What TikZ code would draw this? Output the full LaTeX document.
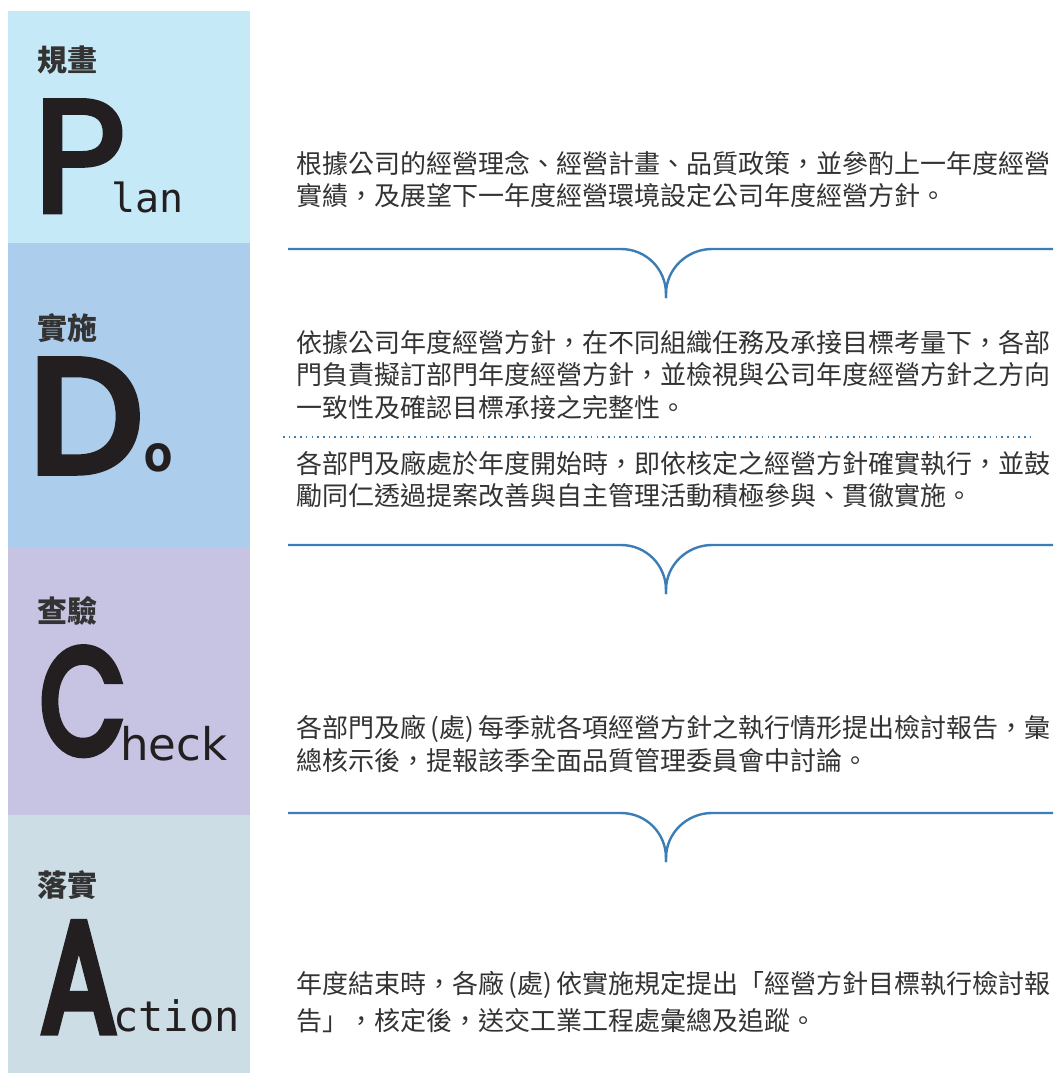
\documentclass[tikz,border=0pt]{standalone}
\usepackage{fontspec}
\newfontfamily\cjk{Noto Sans CJK TC}
\newfontfamily\bigfont{Poppins}[FakeBold=3]
\newfontfamily\bigfontb{Poppins}[FakeBold=6]
\newfontfamily\monofont{DejaVu Sans Mono}
\newfontfamily\dvsans{DejaVu Sans}
\definecolor{planbg}{HTML}{C6E9F8}
\definecolor{dobg}{HTML}{ACCDEB}
\definecolor{checkbg}{HTML}{C7C3E2}
\definecolor{actbg}{HTML}{CCDDE6}
\definecolor{flowblue}{HTML}{3D7DB5}
\definecolor{txtgray}{HTML}{333333}
\definecolor{letterc}{HTML}{231F20}
\newcommand{\pgap}{\hspace{4.5pt}}
\tikzset{
  body/.style={anchor=base west, inner sep=0pt, text=txtgray, font=\cjk\fontsize{26}{26}\selectfont},
  head/.style={anchor=base west, inner sep=0pt, text=txtgray, font=\cjk\bfseries\fontsize{30}{30}\selectfont},
  bigletter/.style={anchor=base west, inner sep=0pt, text=letterc},
  small/.style={anchor=base west, inner sep=0pt, text=letterc},
  flow/.style={draw=flowblue, line width=2.4pt},
  dotline/.style={draw=flowblue, line width=1.6pt, dash pattern=on 1.6pt off 4.1pt}
}
\begin{document}
\begin{tikzpicture}[x=1pt,y=-1pt]
\useasboundingbox (0,0) rectangle (1053,1073);
\fill[white] (0,0) rectangle (1053,1073);
% bands
\fill[planbg] (8,11) rectangle (250,243);
\fill[dobg] (8,243) rectangle (250,547);
\fill[checkbg] (8,547) rectangle (250,815);
\fill[actbg] (8,815) rectangle (250,1073);
% headings
\node[head] (h1) at (37,71) {規畫};
\node[head] (h2) at (37,339) {實施};
\node[head] (h3) at (37,622) {查驗};
\node[head] (h4) at (37,896) {落實};
% big letters
\node[bigletter, font=\bigfont\fontsize{160}{160}\selectfont] (P) at (33,212) {P};
\node[small, font=\monofont\fontsize{40}{40}\selectfont] (lan) at (111,212) {lan};
\node[bigletter, font=\bigfontb\fontsize{158}{158}\selectfont] (D) at (30,471) {D};
\node[small, font=\monofont\bfseries\fontsize{50}{50}\selectfont] (o) at (143,471) {o};
\node[bigletter, font=\bigfontb\fontsize{148}{148}\selectfont] (C) at (40,753) {\scalebox{0.74}[1]{C}};
\node[small, font=\dvsans\fontsize{45}{45}\selectfont] (heck) at (120,760) {heck};
\node[bigletter, font=\bigfontb\fontsize{155}{155}\selectfont] (A) at (41,1031) {\scalebox{0.72}[1]{A}};
\node[small, font=\monofont\fontsize{42}{42}\selectfont] (ction) at (113,1031) {ction};
% texts
\node[body] (p1a) at (296,173) {根據公司的經營理念、經營計畫、品質政策，並參酌上一年度經營};
\node[body] (p1b) at (296,205) {實績，及展望下一年度經營環境設定公司年度經營方針。};
\node[body] (p2a) at (296,352) {依據公司年度經營方針，在不同組織任務及承接目標考量下，各部};
\node[body] (p2b) at (296,384) {門負責擬訂部門年度經營方針，並檢視與公司年度經營方針之方向};
\node[body] (p2c) at (296,417) {一致性及確認目標承接之完整性。};
\node[body] (p3a) at (296,473) {各部門及廠處於年度開始時，即依核定之經營方針確實執行，並鼓};
\node[body] (p3b) at (296,505) {勵同仁透過提案改善與自主管理活動積極參與、貫徹實施。};
\node[body] (p4a) at (296,737) {各部門及廠\pgap(處)\pgap 每季就各項經營方針之執行情形提出檢討報告，彙};
\node[body] (p4b) at (296,770) {總核示後，提報該季全面品質管理委員會中討論。};
\node[body] (p5a) at (296,993) {年度結束時，各廠\pgap(處)\pgap 依實施規定提出「經營方針目標執行檢討報};
\node[body] (p5b) at (296,1030) {告」，核定後，送交工業工程處彙總及追蹤。};
% separators
\coordinate (s1l) at (288,249); \coordinate (s1t) at (666,298); \coordinate (s1r) at (1053,249);
\coordinate (s2l) at (288,545); \coordinate (s2t) at (666,594); \coordinate (s2r) at (1053,545);
\coordinate (s3l) at (288,813); \coordinate (s3t) at (666,862); \coordinate (s3r) at (1053,813);
\foreach \s in {s1,s2,s3}{
  \draw[flow] (\s l) -- ([xshift=333pt]\s l) .. controls ([xshift=358pt]\s l) and ([yshift=29pt]\s t) .. ([yshift=4pt]\s t) -- (\s t);
  \draw[flow] (\s t) -- ([yshift=4pt]\s t) .. controls ([yshift=29pt]\s t) and ([xshift=-366pt]\s r) .. ([xshift=-341pt]\s r) -- (\s r);
}
\draw[dotline] (283,437) -- (1030,437);
\end{tikzpicture}
\end{document}
